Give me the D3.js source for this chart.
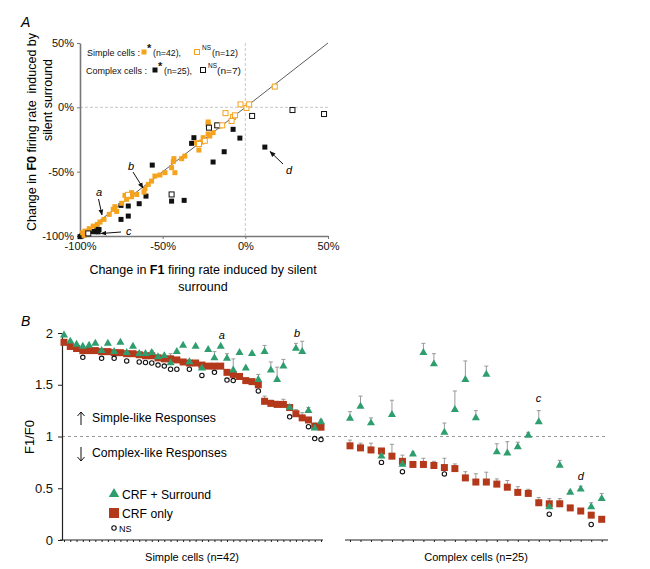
<!DOCTYPE html>
<html><head><meta charset="utf-8">
<script src="https://cdn.jsdelivr.net/npm/d3@7"></script>
<style>body{margin:0;background:#fff} svg{font-family:"Liberation Sans",Arial,sans-serif}</style>
</head><body>
<svg id="c" width="650" height="569"></svg>
<script>
// ---------- DATA: Panel A (change in F1 %, change in F0 %) ----------
const simpleSig = [[-17.4,-14],[-15.5,-14.5],[-22.5,-13.2],[-22.5,-11.4],[-22.5,-20.7],[-21.5,-22.3],[-19.5,-19.7],[-25.5,-23.6],[-29.5,-27.5],[-28.1,-33.2],[-38.5,-39.9],[-43.6,-42.2],[-43.2,-39.9],[-44.6,-46.9],[-42.6,-50.8],[-48.6,-50.8],[-51.7,-52.6],[-54.7,-53.4],[-56.7,-57.3],[-58.7,-59.9],[-60.7,-63.2],[-61.3,-65.9],[-65.7,-67.7],[-68.8,-69.5],[-72.8,-68.4],[-71.8,-71.5],[-74.8,-74.6],[-78.9,-77.2],[-79.9,-79.3],[-77.8,-80.9],[-82.3,-83.2],[-85.5,-87.1],[-87.9,-89.2],[-89.5,-91],[-92,-92.3],[-94.4,-94.3],[-97,-96.2],[-98.4,-97.5],[-97.6,-99.5],[-68.8,-66.3],[-26.5,-27],[-36.6,-37.9]];
const simpleNS = [[17.8,16.1],[-2.9,2.3],[0.7,-0.5],[2.3,2.3],[-7.4,-7.5],[-6.3,-6.2],[-12,-4.5],[-8.3,-10.6],[-14,-14],[-24.5,-26],[-28,-28.5],[-71,-68]];
const complexSig = [[-31.1,-23.6],[-32.5,-28],[-7.4,-17.1],[-3.3,-23.9],[-12.8,-34.5],[-19.5,-42.5],[11.8,-30.9],[-56.3,-44.9],[-60.1,-69],[-64.2,-74.9],[-70.8,-76.7],[-75.2,-76.2],[-75.2,-87.1],[-70.8,-84.5],[-44.6,-72.9],[-37,-72.3],[-90,-94.3],[-88.5,-95],[-91.5,-96.7],[-89,-96.8],[-93,-96.5],[-96,-97.5],[-99,-100],[-100,-100.5],[-97.5,-99]];
const complexNS = [[4.1,-6.7],[28.5,-2.1],[47.6,-5.2],[-22,-15.8],[-17,-14],[-44.6,-67.7],[-95,-98]];
const ticksA = [-100,-50,0,50];

// ---------- DATA: Panel B (F1/F0) ----------
const simpleCRF = [1.91,1.87,1.85,1.83,1.83,1.83,1.82,1.82,1.81,1.81,1.80,1.80,1.79,1.78,1.78,1.76,1.75,1.75,1.74,1.72,1.71,1.71,1.69,1.68,1.68,1.68,1.62,1.60,1.58,1.54,1.53,1.50,1.34,1.32,1.31,1.31,1.28,1.22,1.18,1.16,1.10,1.09];
const simpleCRFErr = [0,0,0,0,0,0,0,0,0,0,0,0,0,0,0,0,0,0.03,0,0,0,0,0,0,0,0,0,0,0,0,0,0,0.05,0.03,0.03,0.05,0.02,0.04,0.05,0,0.03,0];
const simpleSurr = [1.98,1.92,1.89,1.87,1.88,1.90,1.83,1.90,1.82,1.91,1.81,1.87,1.80,1.80,1.81,1.77,1.78,1.71,1.82,1.88,1.72,1.87,1.66,1.84,1.76,1.87,1.755,1.64,1.81,1.66,1.80,1.55,1.82,1.64,1.55,1.68,1.28,1.85,1.82,1.25,1.08,1.14];
const simpleSurrErr = [0,0,0,0,0,0,0,0,0,0,0,0,0,0,0.02,0,0,0.09,0,0,0,0,0.03,0,0.06,0,0.045,0.11,0,0,0,0.05,0.06,0.08,0.12,0.065,0,0.05,0.1,0.03,0,0.02];
const simpleNSmarks = [[4,1.765],[7,1.755],[9,1.755],[11,1.73],[13,1.72],[14,1.715],[15,1.71],[16,1.69],[17,1.68],[18,1.65],[19,1.65],[21,1.65],[23,1.59],[25,1.62],[27,1.545],[28,1.54],[32,1.44],[37,1.19],[40,1.095],[41,0.98],[42,0.97]];
const complexCRF = [0.91,0.89,0.87,0.86,0.81,0.76,0.73,0.73,0.72,0.70,0.69,0.60,0.56,0.56,0.54,0.51,0.46,0.45,0.36,0.35,0.35,0.31,0.28,0.24,0.20];
const complexCRFErr = [0.055,0.045,0.065,0.02,0.115,0.06,0,0.06,0.04,0.09,0.045,0.06,0.08,0.095,0.05,0.065,0.055,0.04,0.05,0.05,0.05,0,0,0,0];
const complexSurr = [1.175,1.29,1.13,0.81,1.21,0.73,0.83,1.81,1.70,1.04,1.26,1.55,1.18,1.60,0.85,0.84,0.90,1.01,1.14,0.32,0.72,0.46,0.49,0.32,0.40];
const complexSurrErr = [0.065,0.10,0.05,0.02,0.14,0.02,0.02,0.09,0.10,0.09,0.18,0.18,0.07,0.08,0.08,0.11,0.045,0.03,0.11,0.02,0.05,0.02,0.03,0.04,0.05];
const complexNSmarks = [[4,0.75],[6,0.66],[10,0.638],[20,0.25],[24,0.15]];
const ticksB = [0,0.5,1,1.5,2];

// ---------- COLOURS ----------
const ORANGE = "#f5a21c", GREEN = "#2f9e6f", RUST = "#b3391a", AXIS = "#777";

const svg = d3.select("#c");

// ================= PANEL A =================
const xA = d3.scaleLinear().domain([-100,50]).range([80,328]);
const yA = d3.scaleLinear().domain([-100,50]).range([236,43]);
const gA = svg.append("g");

gA.append("line").attr("x1",xA(0)).attr("x2",xA(0)).attr("y1",yA(50)).attr("y2",yA(-100))
  .attr("stroke","#c8c8c8").attr("stroke-dasharray","3,2");
gA.append("line").attr("x1",xA(-100)).attr("x2",xA(50)).attr("y1",yA(0)).attr("y2",yA(0))
  .attr("stroke","#c8c8c8").attr("stroke-dasharray","3,2");
gA.append("line").attr("x1",xA(-100)).attr("y1",yA(-100)).attr("x2",xA(50)).attr("y2",yA(50))
  .attr("stroke","#333").attr("stroke-width",0.8);

const axXA = gA.append("g").attr("transform",`translate(0,${yA(-100)})`)
  .call(d3.axisBottom(xA).tickValues(ticksA).tickFormat(d=>d+"%").tickSize(3).tickSizeOuter(0));
const axYA = gA.append("g").attr("transform",`translate(${xA(-100)},0)`)
  .call(d3.axisLeft(yA).tickValues(ticksA).tickFormat(d=>d+"%").tickSize(3).tickPadding(3).tickSizeOuter(0));
[axXA,axYA].forEach(a=>{
  a.select(".domain").attr("stroke",AXIS).attr("stroke-width",1.6);
  a.selectAll(".tick line").attr("stroke",AXIS);
  a.selectAll(".tick text").attr("font-size",11).attr("fill","#111").attr("font-family","Liberation Sans, Arial, sans-serif");
});

const sq = 5;
function squares(data, fill, stroke){
  gA.append("g").selectAll("rect").data(data).join("rect")
    .attr("x",d=>xA(d[0])-sq/2).attr("y",d=>yA(d[1])-sq/2)
    .attr("width",sq).attr("height",sq)
    .attr("fill",fill).attr("stroke",stroke).attr("stroke-width",stroke==="none"?0:1);
}
squares(complexSig,"#111","none");
squares(simpleSig,ORANGE,"none");
squares(complexNS,"#fff","#111");
squares(simpleNS,"#fff",ORANGE);

// arrow marker
svg.append("defs").append("marker").attr("id","ah").attr("viewBox","0 0 10 10")
  .attr("refX",9).attr("refY",5).attr("markerWidth",6).attr("markerHeight",6).attr("orient","auto")
  .append("path").attr("d","M0,1 L10,5 L0,9 Z").attr("fill","#111");

const annA = [
  {t:"a", tx:96, ty:196, x1:98.5, y1:199, x2:102, y2:215},
  {t:"b", tx:128, ty:170, x1:133, y1:172, x2:143, y2:188},
  {t:"c", tx:126, ty:235, x1:121, y1:232, x2:101, y2:233.5},
  {t:"d", tx:286, ty:174, x1:283, y1:164, x2:270, y2:151.5}
];
annA.forEach(a=>{
  gA.append("line").attr("x1",a.x1).attr("y1",a.y1).attr("x2",a.x2).attr("y2",a.y2)
    .attr("stroke","#111").attr("stroke-width",1).attr("marker-end","url(#ah)");
  gA.append("text").attr("x",a.tx).attr("y",a.ty).attr("font-size",11).attr("font-style","italic").text(a.t);
});

// legend A
const legA = gA.append("g").attr("font-size",9.8).attr("fill","#111");
function lt(x,y,txt,len){
  const t = legA.append("text").attr("x",x).attr("y",y).text(txt);
  if(len) t.attr("textLength",len).attr("lengthAdjust","spacingAndGlyphs");
  return t;
}
lt(87,56,"Simple cells :",53);
legA.append("rect").attr("x",141.5).attr("y",49.5).attr("width",5).attr("height",5).attr("fill",ORANGE);
lt(147,52,"*").attr("font-size",11).attr("font-weight","bold");
lt(153,56,"(n=42),",28);
legA.append("rect").attr("x",194.5).attr("y",49.5).attr("width",5).attr("height",5).attr("fill","#fff").attr("stroke",ORANGE);
lt(202,50,"NS").attr("font-size",6.5);
lt(212,56,"(n=12)",26);
lt(86,74,"Complex cells :",61);
legA.append("rect").attr("x",152.5).attr("y",67.5).attr("width",5).attr("height",5).attr("fill","#111");
lt(158,70,"*").attr("font-size",11).attr("font-weight","bold");
lt(164,74,"(n=25),",28);
legA.append("rect").attr("x",200.5).attr("y",67.5).attr("width",5).attr("height",5).attr("fill","#fff").attr("stroke","#111");
lt(208,68,"NS").attr("font-size",6.5);
lt(217,74,"(n=7)",24);

// titles A
const tA1 = gA.append("text").attr("x",203).attr("y",274).attr("text-anchor","middle").attr("font-size",12.5);
tA1.append("tspan").text("Change in ");
tA1.append("tspan").attr("font-weight","bold").text("F1");
tA1.append("tspan").text(" firing rate induced by silent");
gA.append("text").attr("x",203).attr("y",291).attr("text-anchor","middle").attr("font-size",12.5).text("surround");
const tY1 = gA.append("text").attr("transform","translate(35.5,132) rotate(-90)").attr("text-anchor","middle").attr("font-size",12.5);
tY1.append("tspan").text("Change in ");
tY1.append("tspan").attr("font-weight","bold").text("F0");
tY1.append("tspan").text(" firing rate  induced by").attr("xml:space","preserve");
gA.append("text").attr("transform","translate(51.5,100) rotate(-90)").attr("text-anchor","middle").attr("font-size",12.5).text("silent surround");
svg.append("text").attr("x",21).attr("y",27).attr("font-size",14).attr("font-style","italic").text("A");

// ================= PANEL B =================
const yB = d3.scaleLinear().domain([0,2]).range([540,333]);
const xL = d3.scalePoint().domain(d3.range(1,43)).range([64,321]);
const xR = d3.scalePoint().domain(d3.range(1,26)).range([350,601.7]);
const gB = svg.append("g");

svg.append("text").attr("x",21).attr("y",326).attr("font-size",14).attr("font-style","italic").text("B");

gB.append("line").attr("x1",62).attr("x2",608).attr("y1",yB(1)).attr("y2",yB(1))
  .attr("stroke","#999").attr("stroke-dasharray","3,3");

const axYB = gB.append("g").attr("transform","translate(62,0)")
  .call(d3.axisLeft(yB).tickValues(ticksB).tickFormat(d=>d).tickSize(4).tickPadding(5).tickSizeOuter(0));
axYB.select(".domain").attr("stroke","#222").attr("stroke-width",1.2);
axYB.selectAll(".tick line").attr("stroke","#222");
axYB.selectAll(".tick text").attr("font-size",13).attr("fill","#111").attr("font-family","Liberation Sans, Arial, sans-serif");

gB.append("text").attr("transform","translate(34,437) rotate(-90)").attr("text-anchor","middle").attr("font-size",13).text("F1/F0");

function xAxisB(scale, x0, x1){
  const g = gB.append("g").attr("transform",`translate(0,540)`)
    .call(d3.axisBottom(scale).tickSize(2).tickFormat("").tickSizeOuter(0));
  g.select(".domain").remove();
  g.selectAll(".tick line").attr("stroke","#222");
  g.append("line").attr("x1",x0).attr("x2",x1).attr("y1",0).attr("y2",0).attr("stroke","#222").attr("stroke-width",1.2);
}
xAxisB(xL,60,323);
xAxisB(xR,345,608);

function errBars(scale, vals, errs){
  const d = vals.map((v,i)=>({i:i+1,v,e:errs[i]})).filter(o=>o.e>0);
  const g = gB.append("g").attr("stroke","#999").attr("stroke-width",1);
  g.selectAll("line.v").data(d).join("line").attr("x1",o=>scale(o.i)).attr("x2",o=>scale(o.i))
    .attr("y1",o=>yB(o.v)).attr("y2",o=>yB(o.v+o.e));
  g.selectAll("line.c").data(d).join("line").attr("x1",o=>scale(o.i)-2).attr("x2",o=>scale(o.i)+2)
    .attr("y1",o=>yB(o.v+o.e)).attr("y2",o=>yB(o.v+o.e));
}
function sqB(scale, vals){
  gB.append("g").selectAll("rect").data(vals).join("rect")
    .attr("x",(v,i)=>scale(i+1)-3.5).attr("y",v=>yB(v)-3.5).attr("width",7).attr("height",7).attr("fill",RUST);
}
const tri = d3.symbol().type(d3.symbolTriangle).size(28);
function triB(scale, vals){
  gB.append("g").selectAll("path").data(vals).join("path")
    .attr("transform",(v,i)=>`translate(${scale(i+1)},${yB(v)})`).attr("d",tri).attr("fill",GREEN);
}
function nsB(scale, marks){
  gB.append("g").selectAll("circle").data(marks).join("circle")
    .attr("cx",m=>scale(m[0])).attr("cy",m=>yB(m[1])).attr("r",2.2)
    .attr("fill","#fff").attr("stroke","#111").attr("stroke-width",1.1);
}
errBars(xL, simpleCRF, simpleCRFErr);
errBars(xL, simpleSurr, simpleSurrErr);
errBars(xR, complexCRF, complexCRFErr);
errBars(xR, complexSurr, complexSurrErr);
sqB(xL, simpleCRF); sqB(xR, complexCRF);
triB(xL, simpleSurr); triB(xR, complexSurr);
nsB(xL, simpleNSmarks); nsB(xR, complexNSmarks);

// letters
[["a",xL(26)-2,339],["b",xL(38)-2,337],["c",xR(19)-3,402],["d",xR(23)-3,480]].forEach(l=>{
  gB.append("text").attr("x",l[1]).attr("y",l[2]).attr("font-size",11).attr("font-style","italic").text(l[0]);
});

// response text with drawn arrows
function vArrow(x, yTail, yHead){
  const s = yHead < yTail ? 1 : -1;
  gB.append("path").attr("d",`M${x},${yTail} L${x},${yHead} M${x-3.5},${yHead+4*s} L${x},${yHead} L${x+3.5},${yHead+4*s}`)
    .attr("fill","none").attr("stroke","#111").attr("stroke-width",1);
}
vArrow(81, 425, 412);
gB.append("text").attr("x",92).attr("y",422).attr("font-size",12.2).text("Simple-like Responses");
vArrow(81, 447, 461);
gB.append("text").attr("x",92).attr("y",457).attr("font-size",12.2).text("Complex-like Responses");

// legend B
gB.append("path").attr("transform","translate(114,494)").attr("d",d3.symbol().type(d3.symbolTriangle).size(48)).attr("fill",GREEN);
gB.append("text").attr("x",122).attr("y",498.5).attr("font-size",12.2).text("CRF + Surround");
gB.append("rect").attr("x",109).attr("y",508).attr("width",10).attr("height",10).attr("fill",RUST);
gB.append("text").attr("x",122).attr("y",517.5).attr("font-size",12.2).text("CRF only");
gB.append("circle").attr("cx",114).attr("cy",528).attr("r",2.2).attr("fill","#fff").attr("stroke","#111").attr("stroke-width",1.1);
gB.append("text").attr("x",119).attr("y",531.5).attr("font-size",9).text("NS");

gB.append("text").attr("x",192).attr("y",561).attr("text-anchor","middle").attr("font-size",11).text("Simple cells (n=42)");
gB.append("text").attr("x",476).attr("y",561).attr("text-anchor","middle").attr("font-size",11).text("Complex cells (n=25)");
</script>
</body></html>
